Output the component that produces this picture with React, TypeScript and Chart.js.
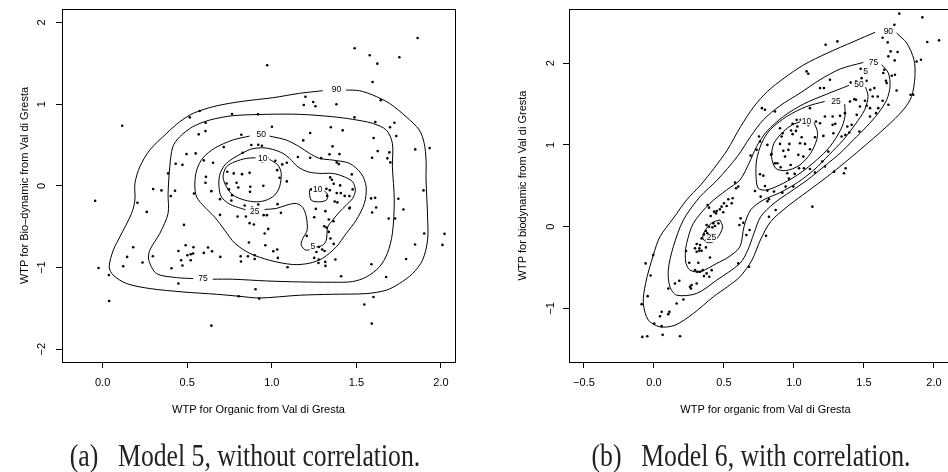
import React, { useEffect, useRef } from 'react';
import { Chart, registerables } from 'chart.js';
Chart.register(...registerables);

type Pair = number[];
type Lbl = { x: number; y: number; text: string };

// ---------------- Panel (a): Model 5, without correlation ----------------
const aXTicks = [0, 0.5, 1, 1.5, 2];
const aYTicks = [-2, -1, 0, 1, 2];
const aXTitle = 'WTP for Organic from Val di Gresta';
const aYTitle = 'WTP for Bio\u2013dynamic from Val di Gresta';
const aCaptionTag = '(a)';
const aCaption = 'Model 5, without correlation.';

const aPoints: Pair[] = [
  [1.862,1.81],[1.49,1.684],[1.579,1.598],[1.754,1.574],[1.624,1.495],[1.596,1.271],[1.199,1.091],[1.245,1.026],
  [1.189,0.989],[1.258,0.973],[1.382,0.998],[1.644,1.047],[1.489,0.838],[1.612,0.781],[1.725,0.772],[1.699,0.716],
  [1.349,0.716],[1.419,0.679],[1.227,0.646],[1.736,0.609],[1.602,0.585],[1.186,0.556],[1.359,0.483],[1.848,0.446],
  [1.933,0.462],[1.626,0.425],[1.695,0.409],[1.341,0.385],[1.4,0.388],[1.154,0.352],[1.227,0.343],[1.593,0.343],
  [1.683,0.336],[1.701,0.287],[1.384,0.287],[1.396,0.266],[1.062,0.262],[1.089,0.282],[1.473,0.14],[1.345,0.103],
  [-0.044,-0.184],[0.206,-0.208],[0.261,-0.319],[0.299,-0.04],[0.348,-0.056],[0.403,-0.126],[0.428,-0.061],[0.54,-0.093],
  [0.608,0.037],[0.643,-0.065],[0.694,-0.163],[0.747,-0.044],[0.765,-0.114],[0.792,0.037],[0.802,-0.02],[0.873,-0.012],
  [0.871,-0.074],[0.95,0],[1.089,0.054],[0.84,-0.24],[0.883,-0.265],[0.92,-0.228],[1.034,-0.224],[1.054,-0.331],
  [0.694,-0.355],[0.798,-0.375],[0.847,-0.375],[0.952,-0.359],[0.971,-0.359],[0.869,-0.457],[0.894,-0.473],[0.481,-0.478],
  [0.865,-0.694],[0.962,-0.727],[1.009,-0.8],[1.032,-0.779],[1.036,-0.882],[1.093,-0.996],[0.181,-0.751],[0.145,-0.87],
  [0.236,-0.939],[0.297,-0.862],[0.122,-0.984],[-0.024,-1.005],[0.037,-1.091],[0.039,-1.409],[0.448,-0.797],[0.491,-0.727],
  [0.537,-0.751],[0.623,-0.755],[0.647,-0.8],[0.598,-0.821],[0.501,-0.849],[0.521,-0.837],[0.535,-0.828],[0.464,-0.911],
  [0.521,-0.911],[0.472,-0.975],[0.407,-1.009],[0.696,-0.87],[0.816,-0.862],[0.859,-0.862],[0.899,-0.849],[0.899,-0.895],
  [0.818,-0.926],[0.448,-1.196],[0.904,-1.266],[0.804,-1.352],[0.926,-1.38],[0.643,-1.711],
  [0.609,0.772],[0.568,0.63],[0.82,0.625],[1.001,0.723],[0.472,0.257],[0.55,0.397],[0.598,0.311],[0.653,0.282],
  [0.716,0.474],[0.879,0.499],[0.92,0.502],[0.942,0.49],[0.828,0.404],[0.932,0.343],[0.975,0.343],[0.944,0.299],
  [1.021,0.306],[1.292,0.339],[1.032,0.192],[0.737,0.172],[0.775,0.152],[0.824,0.143],[0.869,0.159],[0.611,0.11],
  [1.046,0.098],[0.733,0.029],[0.761,-0.179],[0.958,-0.583],[0.979,-0.527],[1.233,-0.044],[1.26,-0.028],[1.282,-0.056],
  [1.323,-0.037],[1.327,-0.123],[1.343,-0.053],[1.355,0.074],[1.366,0.025],[1.404,0.005],[1.384,-0.089],[1.408,-0.089],
  [1.431,-0.123],[1.459,-0.126],[1.372,-0.191],[1.388,-0.203],[1.461,-0.265],[1.317,-0.31],[1.26,-0.282],[1.251,-0.384],
  [1.337,-0.412],[1.365,-0.433],[1.31,-0.494],[1.323,-0.51],[1.337,-0.564],[1.207,-0.613],[1.347,-0.645],[1.366,-0.711],
  [1.248,-0.727],[1.278,-0.748],[1.298,-0.779],[1.264,-0.809],[1.312,-0.797],[1.251,-0.882],[1.278,-0.902],[1.316,-0.931],
  [1.276,-0.944],[1.317,-0.98],[1.478,-0.044],[1.587,-0.154],[1.459,-0.277],[1.593,-0.326],
  [1.897,-0.056],[1.901,-0.583],[2.021,-0.588],[2.009,-0.723],[1.847,-0.718],[1.794,-0.895],[1.676,-1.115],[1.601,-1.36],
  [1.547,-1.453],[1.591,-1.686],[1.589,-0.96],[1.729,-0.4],[1.778,-0.289],[1.748,-0.159],[1.611,-0.147],[1.617,-0.265],
  [1.691,-0.4],[1.41,-1.107],[1.376,-0.902],[0.515,0.838],[0.574,0.915],[0.608,0.67],[0.765,0.879],[0.918,0.875],
  [0.432,0.27],[0.387,0.152],[0.496,0.388],[0.973,1.475],[0.116,0.735],
];

const aC90: Pair[] = [
  [1.44,1.173],[1.518,1.164],[1.596,1.112],[1.695,1.01],[1.794,0.846],[1.872,0.683],[1.901,0.52],[1.912,0.315],
  [1.912,0.07],[1.921,-0.38],[1.921,-0.664],[1.891,-0.91],[1.832,-1.074],[1.754,-1.196],[1.676,-1.278],[1.558,-1.319],
  [1.36,-1.327],[1.164,-1.339],[0.928,-1.373],[0.81,-1.352],[0.673,-1.327],[0.476,-1.299],[0.279,-1.257],[0.142,-1.196],
  [0.063,-1.094],[0.039,-0.993],[0.063,-0.788],[0.102,-0.625],[0.171,-0.338],[0.191,-0.175],[0.191,0.029],[0.22,0.233],
  [0.279,0.438],[0.378,0.642],[0.456,0.784],[0.535,0.887],[0.653,0.968],[0.771,1.017],[0.888,1.05],[1.006,1.078],
  [1.164,1.132],[1.301,1.164],
];
const aC75: Pair[] = [
  [0.651,-1.143],[0.769,-1.143],[0.969,-1.164],[1.164,-1.176],[1.359,-1.18],[1.477,-1.172],[1.559,-1.115],[1.636,-0.993],
  [1.683,-0.828],[1.713,-0.583],[1.724,-0.175],[1.713,0.233],[1.713,0.52],[1.677,0.683],[1.595,0.765],[1.477,0.814],
  [1.359,0.846],[1.164,0.875],[0.969,0.875],[0.769,0.858],[0.633,0.805],[0.533,0.723],[0.456,0.6],[0.415,0.478],
  [0.397,0.233],[0.387,-0.093],[0.387,-0.338],[0.338,-0.583],[0.279,-0.788],[0.273,-0.91],[0.319,-1.074],[0.437,-1.123],
  [0.535,-1.135],
];
const aC50: Pair[] = [
  [0.987,0.609],[1.086,0.56],[1.164,0.478],[1.223,0.397],[1.282,0.336],[1.36,0.315],[1.459,0.275],[1.528,0.152],
  [1.558,-0.012],[1.547,-0.216],[1.499,-0.42],[1.44,-0.583],[1.381,-0.748],[1.301,-0.886],[1.223,-0.947],[1.124,-0.963],
  [0.987,-0.911],[0.869,-0.825],[0.781,-0.702],[0.722,-0.543],[0.663,-0.384],[0.604,-0.261],[0.556,-0.138],[0.545,0.009],
  [0.556,0.192],[0.592,0.339],[0.663,0.462],[0.769,0.56],[0.869,0.609],
];
const aC25: Pair[] = [
  [0.958,-0.289],[1.027,-0.277],[1.086,-0.237],[1.145,-0.216],[1.183,-0.265],[1.204,-0.38],[1.209,-0.543],[1.183,-0.645],
  [1.174,-0.727],[1.204,-0.788],[1.263,-0.748],[1.301,-0.727],[1.322,-0.665],[1.331,-0.502],[1.36,-0.42],[1.4,-0.319],
  [1.44,-0.237],[1.478,-0.154],[1.494,-0.053],[1.478,0.049],[1.429,0.11],[1.36,0.152],[1.282,0.152],[1.213,0.172],
  [1.154,0.233],[1.105,0.336],[1.066,0.397],[1.006,0.446],[0.947,0.466],[0.879,0.45],[0.83,0.404],[0.771,0.336],
  [0.722,0.254],[0.692,0.131],[0.688,-0.012],[0.702,-0.135],[0.751,-0.224],[0.82,-0.277],[0.845,-0.292],
];
const aC10a: Pair[] = [
  [0.987,0.324],[1.036,0.254],[1.056,0.152],[1.046,-0.012],[1.017,-0.114],[0.968,-0.175],[0.909,-0.196],[0.84,-0.175],
  [0.771,-0.114],[0.732,-0.012],[0.712,0.11],[0.732,0.233],[0.781,0.294],[0.85,0.336],[0.904,0.343],
];
const aC10b: Pair[] = [
  [1.311,-0.059],[1.331,-0.114],[1.322,-0.175],[1.282,-0.196],[1.233,-0.175],[1.223,-0.053],[1.235,-0.04],
];
const aLabels: Lbl[] = [
  { x: 1.382, y: 1.179, text: '90' },
  { x: 0.594, y: -1.135, text: '75' },
  { x: 0.938, y: 0.621, text: '50' },
  { x: 0.899, y: -0.31, text: '25' },
  { x: 0.947, y: 0.336, text: '10' },
  { x: 1.272, y: -0.044, text: '10' },
  { x: 1.243, y: -0.739, text: '5' },
];

// ---------------- Panel (b): Model 6, with correlation ----------------
const bXTicks = [-0.5, 0, 0.5, 1, 1.5, 2];
const bYTicks = [-1, 0, 1, 2];
const bXTitle = 'WTP for organic from Val di Gresta';
const bYTitle = 'WTP for biodynamic from Val di Gresta';
const bCaptionTag = '(b)';
const bCaption = 'Model 6, with correlation.';

const bPoints: Pair[] = [
  [0.579,0.539],[0.602,0.49],[0.586,0.469],[0.562,0.347],[0.531,0.335],[0.555,0.286],[0.519,0.253],[0.5,0.286],
  [0.483,0.245],[0.471,0.212],[0.495,0.176],[0.448,0.192],[0.443,0.163],[0.383,0.265],[0.393,0.233],[0.429,0.184],
  [0.405,0.131],[0.424,0.041],[0.46,0.041],[0.436,0.008],[0.417,-0.008],[0.393,0],[0.376,0.02],[0.371,-0.053],
  [0.381,-0.082],[0.412,-0.102],[0.436,-0.143],[0.417,-0.163],[0.393,-0.122],[0.357,-0.094],[0.376,-0.163],[0.34,-0.143],
  [0.329,-0.224],[0.324,-0.265],[0.305,-0.212],[0.293,-0.265],[0.305,-0.306],[0.324,-0.294],[0.34,-0.294],[0.371,-0.253],
  [0.229,-0.298],[0.252,-0.441],[0.317,-0.441],[0.293,-0.531],[0.31,-0.551],[0.329,-0.551],[0.348,-0.531],[0.357,-0.604],
  [0.376,-0.571],[0.412,-0.531],[0.395,-0.612],[0.4,-0.376],[0.602,-0.449],[0.305,-0.694],[0.269,-0.714],[0.257,-0.735],
  [0.264,-0.755],[0.21,-0.89],[0.181,-0.661],[0.15,-0.694],[0.102,-0.755],[0.162,-0.939],[-0.005,-0.347],[-0.06,-0.449],
  [-0.024,-0.596],[-0.045,-0.849],[-0.088,-0.947],[0.055,-1.041],[0.043,-1.094],[0.11,-1.041],[0.102,-1.069],[0.002,-1.184],
  [0.055,-1.216],[-0.083,-1.347],[-0.048,-1.339],[0.062,-1.322],[0.186,-1.339],[0.61,0.02],
  [1.752,2.604],[1.917,2.559],[1.717,2.469],[1.633,2.31],[1.669,2.253],[1.952,2.257],[2.036,2.278],[1.226,2.224],
  [1.31,2.265],[1.69,2.143],[1.74,2.135],[1.674,2.082],[1.719,2.033],[1.876,2.02],[1.907,2.041],[1.09,1.898],
  [1.102,1.869],[1.476,1.931],[1.51,1.906],[1.645,1.918],[1.638,1.878],[1.698,1.845],[1.721,1.857],[1.483,1.816],
  [1.257,1.796],[1.186,1.694],[1.214,1.694],[1.405,1.763],[1.443,1.776],[1.519,1.784],[1.657,1.784],[1.662,1.755],
  [1.574,1.694],[1.545,1.673],[1.733,1.665],[1.833,1.612],[1.852,1.612],[1.562,1.592],[1.598,1.592],[1.288,1.551],
  [1.4,1.531],[1.431,1.559],[1.443,1.551],[1.507,1.539],[1.633,1.539],[1.471,1.469],[1.519,1.478],[1.543,1.449],
  [1.602,1.449],[1.586,1.388],[1.674,1.49],[1.114,1.449],[0.771,1.449],[0.793,1.429],[0.864,1.408],[1.543,1.347],
  [1.364,1.388],[1.329,1.355],[1.448,1.367],[1.276,1.347],[1.221,1.347],[1.157,1.286],[1.186,1.265],[1.019,1.306],
  [1.048,1.306],[0.99,1.257],[1.024,1.224],[1.102,1.241],[0.9,1.204],[0.979,1.176],[1.014,1.171],[0.919,1.143],
  [0.912,1.102],[0.99,1.131],[1.055,1.094],[1.15,1.094],[1.21,1.11],[1.281,1.143],[1.395,1.151],[1.467,1.163],
  [1.381,1.224],[1.412,1.245],[1.276,1.245],[1.295,1.257],[1.367,1.122],[0.9,1.012],[0.967,1.012],[1.043,1.02],
  [1.079,1.012],[0.84,0.89],[0.836,0.878],[0.924,0.927],[0.96,0.939],[1.031,0.878],[1.067,0.857],[0.936,0.857],
  [1.114,0.947],[1.245,0.918],[1.34,1.102],
  [1.036,0.714],[0.976,0.755],[0.881,0.776],[0.757,0.641],[0.781,0.624],[0.864,0.776],[0.905,0.727],[0.952,0.653],
  [1.005,0.645],[1.071,0.714],[1.114,0.706],[1.202,0.796],[0.964,0.588],[0.94,0.49],[0.995,0.49],[0.917,0.416],
  [0.857,0.429],[0.793,0.498],[0.81,0.441],[0.762,0.367],[0.821,0.335],[0.81,0.31],[0.869,0.204],[0.821,0.122],
  [0.8,-0.11],[0.683,-0.041],[0.638,0.049],[0.619,0.102],[0.66,-0.102],[0.679,-0.49],[1.131,0.245],[1.357,0.653],
  [1.369,0.714],[1.286,0.673],[1.15,0.661],[1.221,0.735],[0.733,0.939],[0.69,0.869],[0.75,1.102],[0.757,1.041],
  [0.81,1.0],[0.721,0.437],
];

const bC90: Pair[] = [
  [1.733,2.367],[1.805,2.245],[1.857,2.041],[1.864,1.837],[1.84,1.592],[1.781,1.429],[1.662,1.224],[1.471,0.939],
  [1.357,0.776],[1.238,0.612],[1.095,0.429],[0.952,0.245],[0.833,0.061],[0.76,-0.163],[0.7,-0.408],[0.614,-0.612],
  [0.524,-0.735],[0.424,-0.857],[0.281,-1.061],[0.15,-1.204],[0.043,-1.224],[-0.04,-1.143],[-0.076,-0.939],[-0.06,-0.694],
  [-0.005,-0.347],[0.043,-0.122],[0.138,0.102],[0.233,0.327],[0.333,0.51],[0.429,0.714],[0.524,0.939],[0.619,1.224],
  [0.714,1.469],[0.81,1.653],[0.929,1.816],[1.071,1.98],[1.238,2.122],[1.429,2.265],[1.579,2.376],
];
const bC75: Pair[] = [
  [1.626,1.98],[1.674,1.878],[1.686,1.714],[1.662,1.551],[1.602,1.388],[1.519,1.224],[1.424,1.061],[1.329,0.898],
  [1.214,0.735],[1.095,0.571],[0.976,0.429],[0.857,0.286],[0.762,0.122],[0.714,-0.082],[0.67,-0.286],[0.614,-0.449],
  [0.448,-0.653],[0.305,-0.816],[0.162,-0.837],[0.114,-0.735],[0.102,-0.531],[0.138,-0.245],[0.21,0.082],[0.329,0.367],
  [0.452,0.571],[0.595,0.857],[0.69,1.102],[0.781,1.306],[0.9,1.478],[1.043,1.633],[1.186,1.796],[1.329,1.927],
  [1.495,2.008],
];
const bC50: Pair[] = [
  [1.512,1.706],[1.529,1.592],[1.505,1.429],[1.44,1.257],[1.352,1.061],[1.25,0.878],[1.143,0.694],[1.024,0.539],
  [0.9,0.416],[0.781,0.327],[0.69,0.204],[0.643,0],[0.614,-0.245],[0.536,-0.367],[0.448,-0.449],[0.329,-0.551],
  [0.257,-0.531],[0.229,-0.449],[0.224,-0.327],[0.233,-0.204],[0.281,0.041],[0.4,0.286],[0.519,0.449],[0.614,0.571],
  [0.679,0.776],[0.733,0.98],[0.805,1.163],[0.924,1.347],[1.067,1.498],[1.233,1.62],[1.393,1.727],
];
const bC25a: Pair[] = [
  [1.362,1.498],[1.364,1.347],[1.333,1.184],[1.257,0.98],[1.162,0.816],[1.043,0.653],[0.924,0.531],[0.805,0.449],
  [0.745,0.469],[0.729,0.612],[0.733,0.816],[0.769,1.02],[0.829,1.184],[0.948,1.347],[1.09,1.469],[1.219,1.531],
];
const bC25b: Pair[] = [
  [0.471,0.082],[0.49,0],[0.467,-0.102],[0.424,-0.184],[0.376,-0.192],[0.348,-0.131],[0.367,-0.041],[0.414,0.049],[0.471,0.082],
];
const bC10: Pair[] = [
  [1.143,1.273],[1.167,1.163],[1.162,1.061],[1.119,0.898],[1.036,0.747],[0.94,0.686],[0.869,0.714],[0.84,0.857],
  [0.857,1.02],[0.924,1.163],[0.988,1.245],[1.043,1.282],
];
const bLabels: Lbl[] = [
  { x: 1.674, y: 2.388, text: '90' },
  { x: 1.567, y: 2.0, text: '75' },
  { x: 1.464, y: 1.735, text: '50' },
  { x: 1.3, y: 1.531, text: '25' },
  { x: 1.09, y: 1.286, text: '10' },
  { x: 0.41, y: -0.14, text: '25' },
  { x: 1.512, y: 1.898, text: '5' },
];

// ---------------- rendering ----------------
const SANS = '"Liberation Sans", Arial, Helvetica, sans-serif';
const SERIF = '"Liberation Serif", "Times New Roman", Times, serif';
const minus = (s: string) => s.replace('-', '\u2212');
const fmtX = (v: number) => minus(v.toFixed(1));
const fmtY = (v: number) => minus(String(v));
const toXY = (arr: Pair[]) => arr.map(([x, y]) => ({ x, y }));

type PanelSpec = {
  width: number;
  height: number;
  padding: { left: number; right: number; top: number; bottom: number };
  yWidth: number;
  xHeight: number;
  xMin: number; xMax: number; yMin: number; yMax: number;
  xTicks: number[]; yTicks: number[];
  xTitle: string; yTitle: string;
  yLabelOffset: number;
  points: Pair[];
  open: Pair[][];
  closed: Pair[][];
  labels: Lbl[];
};

function makeChart(canvas: HTMLCanvasElement, s: PanelSpec) {
  const lineDs = (arr: Pair[]) => ({
    data: toXY(arr),
    showLine: true,
    borderColor: '#000',
    borderWidth: 1,
    pointRadius: 0,
    tension: 0.3,
    fill: false,
  });
  const deco = {
    id: 'deco',
    afterDatasetsDraw(chart: any) {
      const { ctx, chartArea: a, scales } = chart;
      const xs = scales.x, ys = scales.y;
      ctx.save();
      ctx.font = `8.5px ${SANS}`;
      ctx.textAlign = 'center';
      ctx.textBaseline = 'middle';
      for (const l of s.labels) {
        const px = xs.getPixelForValue(l.x);
        const py = ys.getPixelForValue(l.y);
        const w = ctx.measureText(l.text).width;
        ctx.fillStyle = '#fff';
        ctx.fillRect(px - w / 2 - 1, py - 4, w + 2, 8);
        ctx.fillStyle = '#000';
        ctx.fillText(l.text, px, py);
      }
      ctx.strokeStyle = '#000';
      ctx.lineWidth = 1;
      const l = Math.round(a.left) + 0.5, t = Math.round(a.top) + 0.5;
      const r = Math.round(a.right) + 0.5, b = Math.round(a.bottom) + 0.5;
      ctx.strokeRect(l, t, r - l, b - t);
      ctx.font = `11px ${SANS}`;
      ctx.fillStyle = '#000';
      for (const v of s.yTicks) {
        const py = ys.getPixelForValue(v);
        ctx.save();
        ctx.translate(a.left - s.yLabelOffset, py);
        ctx.rotate(-Math.PI / 2);
        ctx.fillText(fmtY(v), 0, 0);
        ctx.restore();
      }
      ctx.restore();
    },
  };
  return new Chart(canvas, {
    type: 'scatter',
    data: {
      datasets: [
        ...s.open.map(lineDs),
        ...s.closed.map((c) => lineDs([...c, c[0]])),
        {
          data: toXY(s.points),
          pointRadius: 1.3,
          pointBackgroundColor: '#000',
          pointBorderWidth: 0,
          showLine: false,
        } as any,
      ],
    },
    options: {
      animation: false,
      responsive: false,
      maintainAspectRatio: false,
      devicePixelRatio: 1,
      layout: { padding: s.padding },
      plugins: { legend: { display: false }, tooltip: { enabled: false }, title: { display: false } },
      scales: {
        x: {
          type: 'linear',
          min: s.xMin,
          max: s.xMax,
          afterBuildTicks: (sc: any) => { sc.ticks = s.xTicks.map((v) => ({ value: v })); },
          afterFit: (sc: any) => { sc.height = s.xHeight; },
          grid: { display: true, drawOnChartArea: false, drawTicks: true, tickLength: 6, color: '#000', lineWidth: 1 },
          border: { display: false },
          ticks: {
            autoSkip: false, maxRotation: 0, minRotation: 0, padding: 8, color: '#000',
            font: { family: SANS, size: 11 },
            callback: (v: any) => fmtX(Number(v)),
          },
          title: { display: true, text: s.xTitle, color: '#000', font: { family: SANS, size: 11 }, padding: 0 },
        },
        y: {
          type: 'linear',
          min: s.yMin,
          max: s.yMax,
          afterBuildTicks: (sc: any) => { sc.ticks = s.yTicks.map((v) => ({ value: v })); },
          afterFit: (sc: any) => { sc.width = s.yWidth; },
          grid: { display: true, drawOnChartArea: false, drawTicks: true, tickLength: 6, color: '#000', lineWidth: 1 },
          border: { display: false },
          ticks: { display: false },
          title: { display: true, text: s.yTitle, color: '#000', font: { family: SANS, size: 11 }, padding: 0 },
        },
      },
    } as any,
    plugins: [deco],
  });
}

const specA: PanelSpec = {
  width: 474, height: 440,
  padding: { left: 18.4, right: 19, top: 9, bottom: 23.4 },
  yWidth: 43.6, xHeight: 54.6,
  xMin: -0.24, xMax: 2.083, yMin: -2.156, yMax: 2.164,
  xTicks: aXTicks, yTicks: aYTicks, xTitle: aXTitle, yTitle: aYTitle,
  yLabelOffset: 20,
  points: aPoints,
  open: [aC90, aC75, aC50, aC25, aC10a, aC10b],
  closed: [],
  labels: aLabels,
};

const specB: PanelSpec = {
  width: 500, height: 440,
  padding: { left: 42.4, right: 12, top: 9, bottom: 23.4 },
  yWidth: 52.6, xHeight: 54.6,
  xMin: -0.607, xMax: 2.2, yMin: -1.654, yMax: 2.661,
  xTicks: bXTicks, yTicks: bYTicks, xTitle: bXTitle, yTitle: bYTitle,
  yLabelOffset: 18,
  points: bPoints,
  open: [bC90, bC75, bC50, bC25a, bC10],
  closed: [bC25b],
  labels: bLabels,
};

function Panel({ spec, left }: { spec: PanelSpec; left: number }) {
  const ref = useRef<HTMLCanvasElement>(null);
  useEffect(() => {
    if (!ref.current) return;
    const c = makeChart(ref.current, spec);
    return () => c.destroy();
  }, [spec]);
  return (
    <canvas
      ref={ref}
      width={spec.width}
      height={spec.height}
      style={{ position: 'absolute', left, top: 0, width: spec.width, height: spec.height }}
    />
  );
}

function Caption({ tag, text, center }: { tag: string; text: string; center: number }) {
  return (
    <div
      style={{
        position: 'absolute', left: center - 250, top: 440, width: 500, textAlign: 'center',
        fontFamily: SERIF, fontSize: 31, lineHeight: '31px', color: '#222', whiteSpace: 'nowrap',
        transform: 'scaleX(0.83)', transformOrigin: 'center',
      }}
    >
      {tag}
      <span style={{ display: 'inline-block', width: 16 }} /> {text}
    </div>
  );
}

export default function App() {
  return (
    <div style={{ position: 'absolute', left: 0, top: 0, width: 948, height: 472, overflow: 'hidden', background: '#fff' }}>
      <Panel spec={specA} left={0} />
      <Panel spec={specB} left={474} />
      <Caption tag={aCaptionTag} text={aCaption} center={245} />
      <Caption tag={bCaptionTag} text={bCaption} center={751} />
    </div>
  );
}
